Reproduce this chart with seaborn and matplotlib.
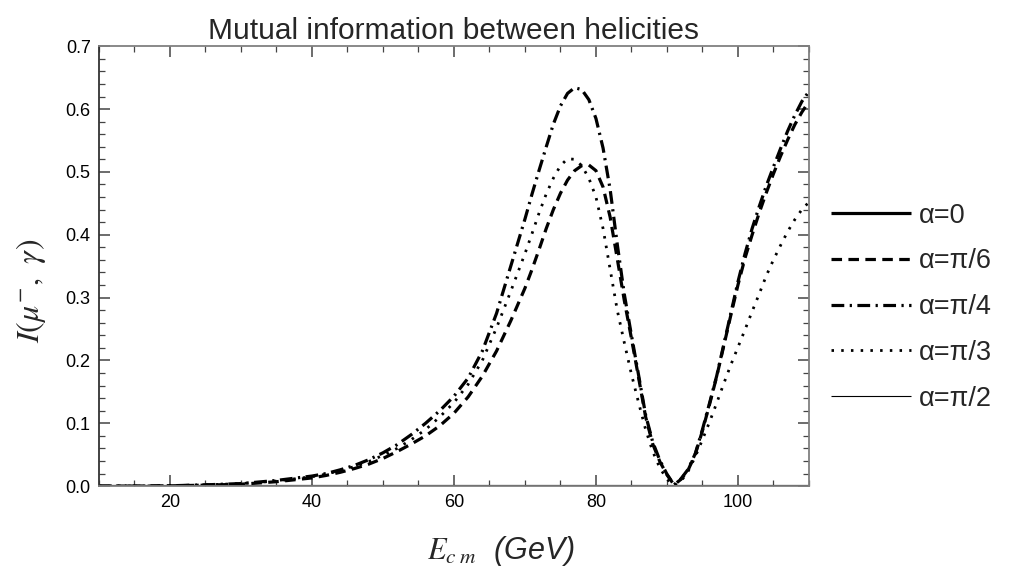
import numpy as np
import pandas as pd
import seaborn as sns
import matplotlib.pyplot as plt
from matplotlib.ticker import MultipleLocator

# centre-of-mass energy (GeV)
energy = [10, 15, 20, 25, 30, 35,
          40, 42, 44, 46, 48, 50, 52, 54, 56, 58, 60, 62, 64, 66, 68, 70,
          71, 72, 73, 74, 75, 76, 77, 78, 79, 80,
          81, 82, 83, 84, 85, 86, 87, 88, 89, 90,
          91, 92, 93, 94, 95, 96, 97, 98, 99, 100,
          101, 102, 103, 104, 105, 106, 107, 108, 109, 110]

# mutual information, one list per mixing angle
mi_0 = [0.0] * len(energy)
mi_pi6 = [0, 0, 0.0004, 0.0015, 0.003, 0.007,
          0.013, 0.017, 0.022, 0.028, 0.035, 0.044, 0.055, 0.067, 0.080, 0.096, 0.116, 0.142, 0.175, 0.215, 0.263, 0.315,
          0.345, 0.377, 0.410, 0.440, 0.466, 0.487, 0.502, 0.510, 0.511, 0.502,
          0.476, 0.428, 0.362, 0.295, 0.235, 0.173, 0.110, 0.067, 0.039, 0.018,
          0.002, 0.011, 0.026, 0.051, 0.088, 0.130, 0.174, 0.223, 0.272, 0.320,
          0.363, 0.400, 0.435, 0.467, 0.497, 0.525, 0.551, 0.575, 0.595, 0.612]
mi_pi4 = [0, 0, 0.0005, 0.002, 0.004, 0.009,
          0.016, 0.020, 0.026, 0.033, 0.042, 0.053, 0.066, 0.082, 0.100, 0.120, 0.143, 0.172, 0.215, 0.275, 0.350, 0.425,
          0.465, 0.503, 0.540, 0.576, 0.605, 0.625, 0.634, 0.631, 0.615, 0.585,
          0.538, 0.472, 0.385, 0.305, 0.240, 0.177, 0.113, 0.070, 0.041, 0.019,
          0.002, 0.012, 0.027, 0.052, 0.090, 0.132, 0.175, 0.225, 0.275, 0.325,
          0.370, 0.410, 0.445, 0.478, 0.508, 0.537, 0.565, 0.590, 0.612, 0.628]
mi_pi3 = [0, 0, 0.0005, 0.002, 0.004, 0.008,
          0.015, 0.019, 0.025, 0.031, 0.039, 0.049, 0.060, 0.074, 0.090, 0.110, 0.133, 0.162, 0.200, 0.252, 0.310, 0.370,
          0.402, 0.435, 0.465, 0.490, 0.510, 0.521, 0.520, 0.510, 0.490, 0.460,
          0.410, 0.345, 0.280, 0.228, 0.178, 0.133, 0.090, 0.055, 0.029, 0.011,
          0.001, 0.008, 0.024, 0.047, 0.074, 0.102, 0.132, 0.163, 0.193, 0.221,
          0.249, 0.278, 0.306, 0.335, 0.360, 0.383, 0.405, 0.424, 0.440, 0.452]
mi_pi2 = [0.0] * len(energy)

labels = ["α=0", "α=π/6", "α=π/4", "α=π/3", "α=π/2"]
series = [mi_0, mi_pi6, mi_pi4, mi_pi3, mi_pi2]

# line styles, mimicking Mathematica's default dashing
styles = [
    dict(lw=2.3, linestyle="-"),
    dict(lw=2.3, linestyle=(0, (3.3, 2.0))),
    dict(lw=2.3, linestyle=(0, (4.0, 1.7, 0.7, 1.7))),
    dict(lw=2.0, linestyle=(0, (0.9, 2.6))),
    dict(lw=0.8, linestyle="-"),
]

sns.set_style("ticks")
plt.rcParams["font.family"] = ["Liberation Sans", "DejaVu Sans"]
plt.rcParams["mathtext.fontset"] = "stix"

fig = plt.figure(figsize=(10.28, 5.78), dpi=100)
ax = fig.add_axes([0.0963, 0.159, 0.6906, 0.761])

for lab, vals, st in zip(labels, series, styles):
    df = pd.DataFrame({"E": energy, "I": vals})
    sns.lineplot(data=df, x="E", y="I", ax=ax, color="black", label=lab,
                 solid_capstyle="butt", dash_capstyle="butt", **st)

ax.set_xlim(10, 110)
ax.set_ylim(0, 0.7)
ax.xaxis.set_major_locator(MultipleLocator(20))
ax.xaxis.set_minor_locator(MultipleLocator(5))
ax.yaxis.set_major_locator(MultipleLocator(0.1))
ax.yaxis.set_minor_locator(MultipleLocator(0.02))
ax.yaxis.set_major_formatter(plt.FuncFormatter(lambda v, p: f"{v:.1f}"))

ax.tick_params(which="both", direction="in", top=True, right=True,
               color="#444444", labelsize=13, labelcolor="black")
ax.tick_params(which="major", length=8, width=1.1, pad=6)
ax.tick_params(which="minor", length=4.5, width=0.9)
for sp in ax.spines.values():
    sp.set_color("#808080")
    sp.set_linewidth(1.3)
ax.spines["left"].set_color("#333333")

ax.set_title("Mutual information between helicities", fontsize=21.5, pad=5)
ax.set_ylabel(r"$I(\mu^{-},\;\,\gamma)$", fontsize=23)
ax.yaxis.set_label_coords(-0.072, 0.443)
ax.set_xlabel(r"$E_{c\;m}$  (GeV)", fontsize=22, fontstyle="italic")
ax.xaxis.set_label_coords(0.566, -0.11)

leg = ax.legend(loc="center left", bbox_to_anchor=(1.012, 0.407),
                frameon=False, borderpad=0, fontsize=19.5,
                handlelength=2.95, handletextpad=0.3, labelspacing=0.73)

fig.savefig("out.png", dpi=100)
